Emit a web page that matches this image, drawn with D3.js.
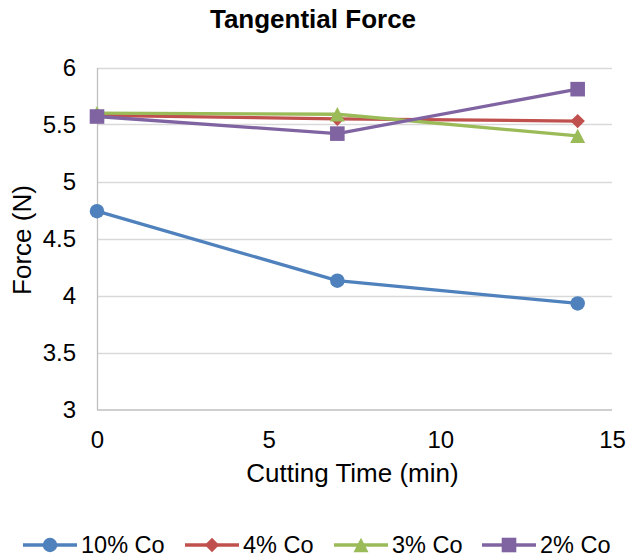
<!DOCTYPE html>
<html>
<head>
<meta charset="utf-8">
<script src="https://cdn.jsdelivr.net/npm/d3@7/dist/d3.min.js"></script>
<style>
  html, body { margin: 0; padding: 0; background: #fff; }
  svg { display: block; font-family: "Liberation Sans", Arial, sans-serif; }
</style>
</head>
<body>
<svg id="chart" width="627" height="559"></svg>
<script>
// Cutting time (min) at which force was measured
const times = [0, 7, 14];

// Tangential force (N) per cobalt content
const force10 = [4.74, 4.13, 3.93];
const force4  = [5.58, 5.55, 5.53];
const force3  = [5.60, 5.59, 5.40];
const force2  = [5.57, 5.42, 5.81];

const seriesNames = ["10% Co", "4% Co", "3% Co", "2% Co"];
const seriesColors = ["#4f81bd", "#c0504d", "#9bbb59", "#8064a2"];
const seriesMarkers = ["circle", "diamond", "triangle", "square"];
const seriesValues = [force10, force4, force3, force2];

const xTicks = [0, 5, 10, 15];
const yTicks = [3, 3.5, 4, 4.5, 5, 5.5, 6];

const svg = d3.select("#chart");
const plotLeft = 97, plotRight = 612, plotTop = 67.5, plotBottom = 409.5;

const x = d3.scaleLinear().domain([0, 15]).range([plotLeft, plotRight]);
const y = d3.scaleLinear().domain([3, 6]).range([plotBottom, plotTop]);

// Title
svg.append("text")
  .attr("x", 313).attr("y", 28)
  .attr("text-anchor", "middle")
  .attr("font-size", 26).attr("font-weight", "bold")
  .text("Tangential Force");

// Horizontal gridlines
svg.append("g").selectAll("line").data(yTicks.slice(1)).join("line")
  .attr("x1", plotLeft).attr("x2", plotRight)
  .attr("y1", d => Math.round(y(d)) + 0.5).attr("y2", d => Math.round(y(d)) + 0.5)
  .attr("stroke", "#d9d9d9").attr("stroke-width", 1.3);

// Axes
const yAxis = d3.axisLeft(y).tickValues(yTicks).tickSize(0).tickPadding(21)
  .tickFormat(d3.format("~g"));
const gy = svg.append("g").attr("transform", `translate(${plotLeft},0)`).call(yAxis);
gy.select(".domain").attr("stroke", "#bfbfbf").attr("stroke-width", 1.3);
gy.selectAll("text").attr("font-size", 24).attr("fill", "#000")
  .attr("font-family", "Liberation Sans, Arial, sans-serif");

const xAxis = d3.axisBottom(x).tickValues(xTicks).tickSize(0).tickPadding(21)
  .tickFormat(d3.format("d"));
const gx = svg.append("g").attr("transform", `translate(0,${plotBottom})`).call(xAxis);
gx.select(".domain").attr("d", `M${plotLeft},0.5H${plotRight}`).attr("stroke", "#bfbfbf").attr("stroke-width", 1.3);
gx.selectAll("text").attr("font-size", 24).attr("fill", "#000")
  .attr("font-family", "Liberation Sans, Arial, sans-serif");

// Axis titles
svg.append("text")
  .attr("x", 352.5).attr("y", 482)
  .attr("text-anchor", "middle").attr("font-size", 26)
  .text("Cutting Time (min)");
svg.append("text")
  .attr("transform", "translate(31,240) rotate(-90)")
  .attr("text-anchor", "middle").attr("font-size", 26)
  .text("Force (N)");

// Marker shapes, each centred on its bounding box
function markerPath(kind) {
  switch (kind) {
    case "circle":
      return d3.symbol().type(d3.symbolCircle).size(165)();
    case "square":
      return "M-7.3,-7.3H7.3V7.3H-7.3Z";
    case "diamond":
      return "M0,-7.2L7.2,0L0,7.2L-7.2,0Z";
    case "triangle":
      return "M0,-7.2L7.5,7.2H-7.5Z";
  }
}

const line = d3.line().x((d, i) => x(times[i])).y(d => y(d));

seriesValues.forEach((vals, s) => {
  const g = svg.append("g");
  g.append("path")
    .datum(vals)
    .attr("d", line)
    .attr("fill", "none")
    .attr("stroke", seriesColors[s])
    .attr("stroke-width", 3.3)
    .attr("stroke-linejoin", "round");
  g.selectAll("path.m").data(vals).join("path")
    .attr("class", "m")
    .attr("d", markerPath(seriesMarkers[s]))
    .attr("transform", (d, i) => `translate(${x(times[i])},${y(d)})`)
    .attr("fill", seriesColors[s]);
});

// Legend
const legendX = [23, 185, 334, 482];
const legendY = 545;
seriesNames.forEach((name, s) => {
  const g = svg.append("g").attr("transform", `translate(${legendX[s]},${legendY})`);
  g.append("line").attr("x1", 0).attr("x2", 54).attr("y1", 0).attr("y2", 0)
    .attr("stroke", seriesColors[s]).attr("stroke-width", 3.3);
  g.append("path")
    .attr("d", markerPath(seriesMarkers[s]))
    .attr("transform", "translate(27,0)")
    .attr("fill", seriesColors[s]);
  g.append("text").attr("x", 58).attr("y", 8)
    .attr("font-size", 23.5).text(name);
});
</script>
</body>
</html>
